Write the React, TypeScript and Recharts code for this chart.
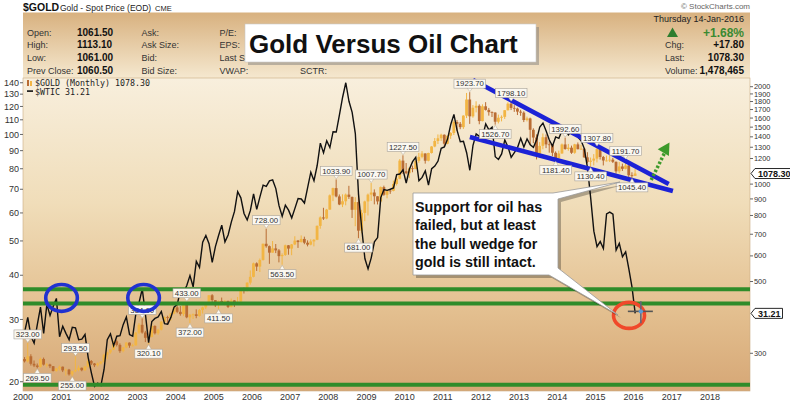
import { ComposedChart, Bar, Line, XAxis, YAxis, ReferenceLine, ReferenceDot } from "recharts";

const FONT = "'Liberation Sans', Arial, sans-serif";
const START_YEAR = 2000;

// gold monthly spot, Jan 2000 .. Jan 2016
const GOLD_FIRST_OPEN = 288.0;
const goldClose = [
  283.3, 293.7, 278.4, 275.0, 272.3, 288.2, 276.8, 277.0, 273.7, 264.5, 269.1, 272.7,
  265.6, 267.1, 258.2, 264.0, 266.4, 270.6, 266.0, 273.0, 284.0, 279.0, 275.5, 278.9,
  282.3, 296.9, 302.0, 308.3, 326.6, 318.5, 304.7, 312.8, 323.7, 316.9, 317.3, 347.6,
  367.5, 347.8, 334.9, 336.8, 364.5, 346.0, 354.8, 375.6, 388.0, 386.0, 398.0, 416.0,
  403.0, 396.5, 427.5, 387.5, 394.5, 395.9, 391.4, 408.0, 416.0, 429.0, 453.4, 438.0,
  422.4, 435.5, 428.0, 435.7, 417.2, 437.1, 429.0, 433.3, 473.3, 470.0, 496.0, 517.0,
  569.0, 556.0, 583.0, 654.0, 643.0, 614.0, 633.0, 624.0, 599.0, 604.0, 647.0, 632.0,
  651.0, 669.0, 662.0, 677.0, 659.0, 650.0, 665.0, 673.0, 743.0, 789.0, 783.0, 834.0,
  923.0, 972.0, 916.0, 865.0, 885.0, 928.0, 913.0, 833.0, 880.0, 718.0, 815.0, 884.0,
  928.0, 942.0, 917.0, 884.0, 979.0, 927.0, 955.0, 953.0, 1001.0, 1039.0, 1182.0, 1096.0,
  1081.0, 1119.0, 1113.0, 1180.0, 1214.0, 1244.0, 1181.0, 1248.0, 1307.0, 1359.0, 1386.0, 1421.0,
  1333.0, 1411.0, 1439.0, 1556.0, 1536.0, 1500.0, 1628.0, 1826.0, 1620.0, 1722.0, 1746.0, 1566.0,
  1740.0, 1696.0, 1669.0, 1664.0, 1559.0, 1604.0, 1614.0, 1692.0, 1773.0, 1720.0, 1712.0, 1675.0,
  1663.0, 1578.0, 1596.0, 1472.0, 1393.0, 1234.0, 1313.0, 1396.0, 1327.0, 1323.0, 1250.0, 1202.0,
  1244.0, 1326.0, 1284.0, 1296.0, 1250.0, 1327.0, 1282.0, 1287.0, 1210.0, 1172.0, 1182.0, 1199.0,
  1283.0, 1213.0, 1183.0, 1183.0, 1190.0, 1172.0, 1095.0, 1134.0, 1115.0, 1142.0, 1065.0, 1060.5,
  1078.3,
];
const goldHigh = [
  292, 323, 298, 285, 279, 291, 291, 279.5, 278.5, 274, 270, 275,
  273, 269, 268.5, 265, 293.5, 275, 271, 274, 291, 286, 280, 281,
  284, 299, 303.5, 309, 327, 330, 322, 314, 325, 324, 321, 349,
  372, 384.6, 352, 339, 372, 366, 357, 377, 390, 392, 399, 417,
  427, 420, 428, 433, 397, 398, 410, 411, 418, 430, 454, 457,
  438, 437, 446, 438, 436, 443, 438, 448, 474, 479, 497, 541,
  572, 573, 589, 655, 728, 646, 667, 653, 630, 611, 650, 648,
  653, 690, 672, 694, 688, 670, 675, 676, 745, 795, 845, 838,
  929, 975, 1033.9, 929, 930, 935, 988, 915, 911, 936, 833, 889,
  935, 1007.7, 963, 917, 983, 989, 961, 965, 1025, 1070, 1195, 1227.5,
  1162, 1127, 1141, 1183, 1249, 1265, 1244, 1250, 1310, 1388, 1424, 1431,
  1424, 1412, 1447, 1576, 1577, 1556, 1632, 1913, 1923.7, 1755, 1803, 1764,
  1764, 1792, 1720, 1678, 1667, 1640, 1631, 1693, 1790, 1798.1, 1754, 1723,
  1697, 1679, 1617, 1605, 1488, 1425, 1348, 1434, 1424, 1361, 1324, 1262,
  1269, 1335, 1392.6, 1331, 1315, 1332, 1345, 1323, 1290, 1255, 1208, 1238,
  1307.8, 1284, 1222, 1225, 1232, 1205, 1175, 1170, 1157, 1191.7, 1144, 1088,
  1113.1,
];
const goldLow = [
  281, 281, 275, 272, 269.5, 271, 275, 271.5, 270, 263.5, 263, 265.5,
  262.5, 256, 256, 255, 262, 264, 264, 264.5, 271, 276, 272, 273,
  277, 281, 288, 299, 307, 315, 301, 302, 311, 312, 315, 317,
  344, 345, 325, 320.1, 336, 343, 342, 353, 371, 368, 378, 396,
  399, 392, 391, 385, 372, 383, 385, 389, 398, 411, 424, 431,
  417, 411.5, 425, 422, 414, 416, 417, 428, 432, 459, 466, 489,
  515, 539, 535, 580, 636, 567, 614, 612, 573, 563.5, 600, 605,
  603, 648, 635, 660, 652, 642, 647, 642, 671, 728, 775, 779,
  834, 886, 910, 861, 849, 860, 900, 786, 741, 681, 705, 768,
  800, 887, 866, 865, 881, 920, 904, 933, 950, 990, 1035, 1075,
  1073, 1044, 1088, 1113, 1164, 1201, 1157, 1176, 1243, 1300, 1330, 1360,
  1308, 1328, 1380, 1418, 1462, 1478, 1481, 1600, 1535, 1604, 1666, 1531,
  1563, 1688, 1628, 1612, 1526.7, 1540, 1563, 1590, 1688, 1694, 1672, 1635,
  1626, 1555, 1562, 1321, 1338, 1192, 1207, 1281, 1292, 1251, 1221, 1181.4,
  1200, 1240, 1277, 1268, 1240, 1241, 1281, 1275, 1205, 1160, 1130.4, 1142,
  1167, 1191, 1142, 1175, 1170, 1162, 1077, 1080, 1098, 1111, 1052, 1045.4,
  1061,
];
// WTI crude, monthly close
const oilClose = [
  27.6, 30.4, 26.9, 25.7, 29.0, 32.5, 27.4, 33.1, 30.8, 32.7, 34.4, 26.8,
  28.7, 27.4, 26.3, 28.5, 28.4, 26.3, 26.4, 27.2, 23.4, 21.2, 19.4, 19.8,
  19.5, 21.7, 26.3, 27.3, 25.3, 26.9, 27.0, 29.0, 30.5, 27.2, 26.9, 31.2,
  33.5, 36.6, 31.0, 25.8, 29.6, 30.2, 30.5, 31.6, 29.2, 29.1, 30.4, 32.5,
  33.1, 36.2, 35.8, 37.4, 39.9, 37.1, 43.8, 42.1, 49.6, 51.8, 49.1, 43.5,
  48.2, 51.8, 55.4, 49.7, 52.0, 56.5, 60.6, 68.9, 66.2, 59.8, 57.3, 61.0,
  67.9, 61.4, 66.6, 71.9, 71.3, 73.9, 74.4, 70.3, 62.9, 58.7, 63.1, 61.1,
  58.1, 61.8, 65.9, 65.7, 64.0, 70.7, 78.2, 74.0, 81.7, 94.5, 88.7, 96.0,
  91.8, 101.8, 101.6, 113.5, 127.4, 140.0, 124.1, 115.5, 100.6, 67.8, 54.4, 44.6,
  41.7, 44.8, 49.7, 51.1, 66.3, 69.9, 69.5, 70.0, 70.6, 77.0, 77.3, 79.4,
  72.9, 79.7, 83.8, 86.2, 74.0, 75.6, 78.9, 71.9, 80.0, 81.4, 84.1, 91.4,
  92.2, 97.0, 106.7, 113.9, 102.7, 95.4, 95.7, 88.8, 79.2, 93.2, 100.4, 98.8,
  98.5, 107.1, 103.0, 104.9, 86.5, 85.0, 88.1, 96.5, 92.2, 86.2, 88.9, 91.8,
  97.5, 92.1, 97.2, 93.5, 92.0, 96.6, 105.0, 107.7, 102.3, 96.4, 92.7, 98.4,
  97.5, 102.6, 101.6, 99.7, 102.7, 105.4, 98.2, 96.0, 91.2, 80.5, 66.2, 53.3,
  48.2, 49.8, 47.6, 59.6, 60.3, 59.5, 47.1, 49.2, 45.1, 46.6, 41.7, 37.0,
  31.21,
];

const yearTicks = [2000, 2001, 2002, 2003, 2004, 2005, 2006, 2007, 2008, 2009, 2010, 2011, 2012, 2013, 2014, 2015, 2016, 2017, 2018];
const oilTicks = [20, 30, 40, 50, 60, 70, 80, 90, 100, 110, 120, 130, 140];
const goldTicks = [300, 500, 600, 700, 800, 900, 1000, 1200, 1300, 1400, 1500, 1600, 1700, 1800, 1900, 2000];

// month index + which extreme gets a price flag
const goldMarks: [number, "h" | "l"][] = [
  [1, "h"], [4, "l"], [15, "l"], [16, "h"], [37, "h"], [39, "l"], [51, "h"], [52, "l"],
  [61, "l"], [76, "h"], [81, "l"], [98, "h"], [105, "l"], [109, "h"], [119, "h"],
  [140, "h"], [148, "l"], [153, "h"], [167, "l"], [170, "h"], [178, "l"], [180, "h"],
  [189, "h"], [191, "l"],
];

// annotations (data coordinates)
const oilSupport = [36.5, 33.3, 19.6];
const wedgeUpper = [{ x: 2011.79, y: 2097 }, { x: 2016.92, y: 1001 }];
const wedgeLower = [{ x: 2011.71, y: 1398 }, { x: 2017.03, y: 952 }];
const breakout = [{ x: 2016.46, y: 1029 }, { x: 2016.87, y: 1290 }];
const breakoutHead = { x: 2016.90, y: 1321 };
const oilTops = [{ x: 2001.01, y: 34.5 }, { x: 2003.16, y: 34.5 }];
const oilBreak = { x: 2015.88, y: 30.8 };
const cursorAt = { x: 2016.19, y: 31.21 };

const X_MAX = 2019.05;
const OIL_DOMAIN = [18.83, 144.4];
const GOLD_DOMAIN = [229.4, 2128];
const PLOT = { left: 23, top: 78, right: 750, bottom: 391 };
const MARGIN = { top: PLOT.top, right: 0, bottom: 0, left: 0 };
const UP = "#f2b544";
const DOWN = "#b96c33";

const monthX = (i: number) => START_YEAR + (i + 0.5) / 12;

const rows = goldClose.map((close, i) => ({
  x: monthX(i),
  open: i === 0 ? GOLD_FIRST_OPEN : goldClose[i - 1],
  high: goldHigh[i],
  low: goldLow[i],
  close,
  range: [goldLow[i], goldHigh[i]],
  oil: oilClose[i],
}));

const lastGold = goldClose[goldClose.length - 1];
const lastOil = oilClose[oilClose.length - 1];

// log position of an oil scale value inside the plot box (same log mapping as the oil axis)
const oilLabelY = (v: number) =>
  PLOT.top +
  ((PLOT.bottom - PLOT.top) * (Math.log(OIL_DOMAIN[1]) - Math.log(v))) /
    (Math.log(OIL_DOMAIN[1]) - Math.log(OIL_DOMAIN[0]));

const Candle = (p: any) => {
  const { x, y, width, height, payload } = p;
  if (!payload || height == null || isNaN(y)) return null;
  const top = Math.min(y, y + height);
  const span = Math.abs(height);
  const lh = Math.log(payload.high);
  const ll = Math.log(payload.low);
  const py = (v: number) => top + (span * (lh - Math.log(v))) / (lh - ll);
  const up = payload.close >= payload.open;
  const c = up ? UP : DOWN;
  const cx = x + width / 2;
  const b0 = py(Math.max(payload.open, payload.close));
  const b1 = py(Math.min(payload.open, payload.close));
  return (
    <g>
      <line x1={cx} x2={cx} y1={top} y2={top + span} stroke={c} strokeWidth={1} />
      <rect x={cx - 1.4} y={b0} width={2.8} height={Math.max(0.8, b1 - b0)} fill={c} />
    </g>
  );
};

const priceFlag = (text: string, below: boolean) => (p: any) => {
  const { cx, cy } = p;
  const w = text.length * 4.1 + 3;
  const by = below ? cy + 5 : cy - 13;
  const tip = below
    ? `M${cx},${cy + 0.5} L${cx - 3},${by + 0.5} L${cx + 3},${by + 0.5}Z`
    : `M${cx},${cy - 0.5} L${cx - 3},${by + 8.5} L${cx + 3},${by + 8.5}Z`;
  return (
    <g>
      <path d={tip} fill="#fbf8f1" stroke="#b0a898" strokeWidth={0.5} />
      <rect x={cx - w / 2} y={by} width={w} height={9} fill="#fbf8f1" stroke="#a8a29a" strokeWidth={0.6} />
      <text x={cx} y={by + 7.2} textAnchor="middle" fontSize={7.8} fill="#333">{text}</text>
    </g>
  );
};

const lastTag = (text: string) => (p: any) => {
  const { cx, cy } = p;
  const w = text.length * 4.9 + 8;
  const d = `M${cx + 1},${cy} L${cx + 5},${cy - 5} L${cx + w},${cy - 5} L${cx + w},${cy + 5} L${cx + 5},${cy + 5}Z`;
  return (
    <g>
      <path d={d} fill="#fff" stroke="#111" strokeWidth={0.9} />
      <text x={cx + 5.5 + (w - 5) / 2} y={cy + 3.3} textAnchor="middle" fontSize={9} fontWeight="bold" fill="#111">{text}</text>
    </g>
  );
};

const ring = (rx: number, ry: number, color: string) => (p: any) => (
  <ellipse cx={p.cx} cy={p.cy} rx={rx} ry={ry} fill="none" stroke={color} strokeWidth={3.6} />
);

const ArrowHead = (p: any) => {
  const { cx, cy } = p;
  const ux = 0.514, uy = -0.857, nx = 0.857, ny = 0.514;
  const tx = cx + ux * 3, ty = cy + uy * 3;
  const bx = cx - ux * 9, by = cy - uy * 9;
  return (
    <path d={`M${tx},${ty} L${bx + nx * 6.5},${by + ny * 6.5} L${bx - nx * 6.5},${by - ny * 6.5}Z`} fill="#3d9a2b" />
  );
};

const Cursor = (p: any) => {
  const { cx, cy } = p;
  return (
    <g>
      <line x1={cx - 13} x2={cx + 12} y1={cy - 2} y2={cy - 2} stroke="#555" strokeWidth={1.6} />
      <line x1={cx} x2={cx} y1={cy - 12} y2={cy + 10} stroke="#667" strokeWidth={1.6} />
      <circle cx={cx} cy={cy - 2} r={2.2} fill="#5b9ad6" />
    </g>
  );
};

const RightTick = (p: any) => (
  <text x={p.x} y={p.y + 2.6} textAnchor="start" fontSize={7.4} fill="#333">{p.payload.value}</text>
);

const headerRows = [
  ["Open:", "1061.50", "Ask:", "P/E:"],
  ["High:", "1113.10", "Ask Size:", "EPS:"],
  ["Low:", "1061.00", "Bid:", "Last S"],
  ["Prev Close:", "1060.50", "Bid Size:", "VWAP:"],
];
const headerRight = [
  ["Chg:", "+17.80"],
  ["Last:", "1078.30"],
  ["Volume:", "1,478,465"],
];
const calloutLines = ["Support for oil has", "failed, but at least", "the bull wedge for", "gold is still intact."];

const callout =
  "M413,193 L553,193 L620,182 L558,199 L558,268 L618,315 L549,275 L413,275 Z";

export default function App() {
  const rowY = [35.5, 47.8, 61, 74];
  return (
    <div style={{ position: "absolute", left: 0, top: 0, width: 790, height: 407, background: "#fff", fontFamily: FONT, overflow: "hidden" }}>
      <svg width={790} height={407} style={{ position: "absolute", left: 0, top: 0 }}>
        <defs>
          <linearGradient id="hdr" x1="0" y1="0" x2="0" y2="1">
            <stop offset="0%" stopColor="#d8b17f" />
            <stop offset="100%" stopColor="#f5e8cf" />
          </linearGradient>
          <linearGradient id="plot" x1="0" y1="0" x2="0" y2="1">
            <stop offset="0%" stopColor="#f8efdd" />
            <stop offset="40%" stopColor="#f0ddb9" />
            <stop offset="75%" stopColor="#e3bf8f" />
            <stop offset="100%" stopColor="#d6a776" />
          </linearGradient>
        </defs>
        <rect x={23} y={12.5} width={727} height={65.5} fill="url(#hdr)" />
        <rect x={23} y={78} width={727} height={313} fill="url(#plot)" stroke="#c9ab82" strokeWidth={0.6} />
      </svg>

      <div style={{ position: "absolute", left: 0, top: 0 }}>
        <ComposedChart width={790} height={407} data={rows} margin={MARGIN}>
          <XAxis
            dataKey="x"
            type="number"
            domain={[START_YEAR, X_MAX]}
            allowDataOverflow
            ticks={yearTicks}
            interval={0}
            height={16}
            tickSize={0}
            tickMargin={3}
            axisLine={false}
            tick={{ fontSize: 9, fill: "#333" }}
          />
          <YAxis
            yAxisId="oil"
            orientation="left"
            width={23}
            type="number"
            scale="log"
            domain={OIL_DOMAIN}
            allowDataOverflow
            ticks={oilTicks}
            tick={false}
            tickLine={false}
            axisLine={false}
          />
          <YAxis
            yAxisId="gold"
            orientation="right"
            width={40}
            type="number"
            scale="log"
            domain={GOLD_DOMAIN}
            allowDataOverflow
            ticks={goldTicks}
            interval={0}
            minTickGap={0}
            tickSize={3}
            tickMargin={1}
            axisLine={false}
            tickLine={{ stroke: "#666" }}
            tick={RightTick}
          />
          <Bar yAxisId="gold" dataKey="range" barSize={3} shape={Candle} isAnimationActive={false} />
          <Line yAxisId="oil" dataKey="oil" type="linear" stroke="#111" strokeWidth={1.4} dot={false} activeDot={false} isAnimationActive={false} />

          {oilSupport.map((v) => (
            <ReferenceLine key={v} yAxisId="oil" y={v} stroke="#2f8c2a" strokeWidth={4} />
          ))}
          <ReferenceLine yAxisId="gold" segment={wedgeUpper} stroke="#1c22d6" strokeWidth={4.5} />
          <ReferenceLine yAxisId="gold" segment={wedgeLower} stroke="#1c22d6" strokeWidth={4.5} />
          <ReferenceLine yAxisId="gold" segment={breakout} stroke="#3d9a2b" strokeWidth={3.5} strokeDasharray="2.5 2" />
          <ReferenceDot yAxisId="gold" x={breakoutHead.x} y={breakoutHead.y} shape={ArrowHead} />

          {goldMarks.map(([i, t]) => {
            const v = t === "h" ? goldHigh[i] : goldLow[i];
            return (
              <ReferenceDot key={i} yAxisId="gold" x={monthX(i)} y={v} shape={priceFlag(v.toFixed(2), t === "l")} />
            );
          })}

          {oilTops.map((c) => (
            <ReferenceDot key={c.x} yAxisId="oil" x={c.x} y={c.y} shape={ring(15.8, 13.4, "#2132d0")} />
          ))}
          <ReferenceDot yAxisId="oil" x={oilBreak.x} y={oilBreak.y} shape={ring(15.5, 13, "#f0482a")} />
          <ReferenceDot yAxisId="oil" x={cursorAt.x} y={cursorAt.y} shape={Cursor} />

          <ReferenceDot yAxisId="gold" x={X_MAX} y={lastGold} ifOverflow="visible" shape={lastTag(lastGold.toFixed(2))} />
          <ReferenceDot yAxisId="oil" x={X_MAX} y={lastOil} ifOverflow="visible" shape={lastTag(lastOil.toFixed(2))} />
        </ComposedChart>
      </div>

      <svg width={790} height={407} style={{ position: "absolute", left: 0, top: 0, pointerEvents: "none" }}>
        <text x={23} y={10.5} fontSize={10.5} fontWeight="bold" fill="#111">$GOLD</text>
        <text x={60} y={10.5} fontSize={8.5} fill="#222">Gold - Spot Price (EOD)</text>
        <text x={155} y={10.5} fontSize={7.5} fill="#222">CME</text>
        <text x={750} y={8.5} textAnchor="end" fontSize={8} fill="#666">© StockCharts.com</text>

        {headerRows.map((r, k) => (
          <g key={k}>
            <text x={27} y={rowY[k]} fontSize={9} fill="#333">{r[0]}</text>
            <text x={77} y={rowY[k] + 0.4} fontSize={10} fontWeight="bold" fill="#111">{r[1]}</text>
            <text x={141.5} y={rowY[k]} fontSize={9} fill="#333">{r[2]}</text>
            <text x={219.5} y={rowY[k]} fontSize={9} fill="#333">{r[3]}</text>
          </g>
        ))}
        <text x={300} y={rowY[3]} fontSize={9} fill="#333">SCTR:</text>

        <text x={744} y={22} textAnchor="end" fontSize={9} fill="#222">Thursday  14-Jan-2016</text>
        <path d="M667,37 L672.5,27.5 L678,37 Z" fill="#2e7d2e" />
        <text x={744} y={36.8} textAnchor="end" fontSize={12} fontWeight="bold" fill="#3a8a32">+1.68%</text>
        {headerRight.map((r, k) => (
          <g key={r[0]}>
            <text x={665} y={rowY[k + 1]} fontSize={9} fill="#333">{r[0]}</text>
            <text x={744} y={rowY[k + 1] + 0.4} textAnchor="end" fontSize={10} fontWeight="bold" fill="#111">{r[1]}</text>
          </g>
        ))}

        {/* oil price scale labels */}
        {oilTicks.map((v) => {
          const y = oilLabelY(v);
          return (
            <g key={`oil-${v}`}>
              <line x1={PLOT.left - 3} x2={PLOT.left} y1={y} y2={y} stroke="#666" strokeWidth={1} />
              <text x={PLOT.left - 4} y={y + 3.2} textAnchor="end" fontSize={9} fill="#333">{v}</text>
            </g>
          );
        })}

        <rect x={248} y={27} width={291} height={38} fill="#777" opacity={0.45} />
        <rect x={245} y={24} width={291} height={38} fill="#fff" stroke="#c8c8c8" strokeWidth={0.6} />
        <text x={249} y={53} fontSize={26} fontWeight="bold" fill="#111">Gold Versus Oil Chart</text>

        <rect x={27} y={80} width={2} height={6} fill={DOWN} />
        <rect x={30} y={81} width={2} height={5} fill={UP} />
        <text x={35} y={86} fontSize={8.3} fontFamily="'DejaVu Sans Mono', monospace" fill="#222">$GOLD (Monthly) {lastGold.toFixed(2)}</text>
        <rect x={27} y={90.3} width={6} height={1.6} fill="#111" />
        <text x={35} y={94.5} fontSize={8.3} fontFamily="'DejaVu Sans Mono', monospace" fill="#222">$WTIC {lastOil.toFixed(2)}</text>

        <path d={callout} transform="translate(3,3)" fill="#000" opacity={0.28} />
        <path d={callout} fill="#fff" stroke="#999" strokeWidth={0.8} />
        {calloutLines.map((t, k) => (
          <text key={t} x={415} y={211.5 + k * 18.5} fontSize={14.3} fontWeight="bold" fill="#111">{t}</text>
        ))}
      </svg>
    </div>
  );
}
